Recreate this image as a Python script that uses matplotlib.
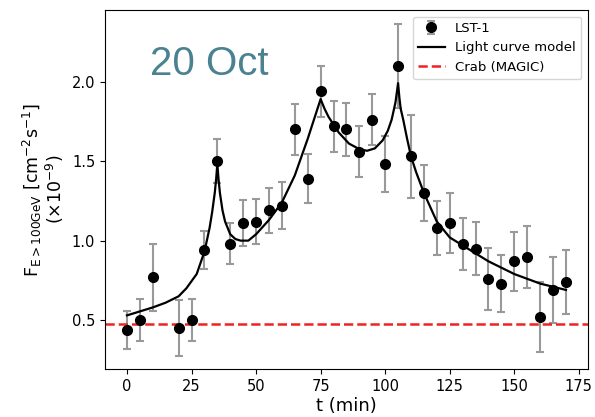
import numpy as np
import matplotlib.pyplot as plt

# LST-1 flux points, 20 Oct
t = [0, 5, 10, 20, 25, 30, 35, 40, 45, 50, 55, 60, 65, 70, 75, 80, 85, 90,
     95, 100, 105, 110, 115, 120, 125, 130, 135, 140, 145, 150, 155, 160, 165, 170]
flux = [0.44, 0.50, 0.77, 0.45, 0.50, 0.94, 1.50, 0.98, 1.11, 1.12, 1.19, 1.22,
        1.70, 1.39, 1.94, 1.72, 1.70, 1.56, 1.76, 1.48, 2.10, 1.53, 1.30, 1.08,
        1.11, 0.98, 0.95, 0.76, 0.73, 0.87, 0.90, 0.52, 0.69, 0.74]
err = [0.12, 0.13, 0.21, 0.175, 0.13, 0.12, 0.14, 0.13, 0.145, 0.14, 0.14, 0.15,
       0.16, 0.155, 0.16, 0.16, 0.165, 0.16, 0.16, 0.175, 0.265, 0.26, 0.175, 0.17,
       0.19, 0.165, 0.165, 0.195, 0.18, 0.185, 0.195, 0.22, 0.21, 0.20]

# light curve model
t_model = [0, 5, 10, 15, 20, 23, 27, 30, 32, 33, 34, 34.5, 35, 35.5, 36, 37, 38,
           40, 42, 44, 47, 50, 55, 60, 65, 70, 75, 76.5, 78, 82, 86, 90, 93, 96,
           99, 101, 102.5, 104, 105, 105.5, 106, 107, 108.5, 110, 112, 115, 120,
           125, 130, 135, 140, 145, 150, 155, 160, 165, 170]
f_model = [0.53, 0.555, 0.58, 0.61, 0.65, 0.70, 0.79, 0.93, 1.08, 1.18, 1.30,
           1.38, 1.48, 1.38, 1.30, 1.19, 1.12, 1.04, 1.01, 1.00, 1.00, 1.04, 1.13,
           1.24, 1.41, 1.64, 1.89, 1.83, 1.78, 1.68, 1.61, 1.575, 1.565, 1.58,
           1.63, 1.69, 1.76, 1.87, 1.99, 1.90, 1.83, 1.76, 1.64, 1.53, 1.43, 1.30,
           1.12, 1.02, 0.97, 0.92, 0.87, 0.83, 0.79, 0.76, 0.73, 0.71, 0.69]

crab = 0.475

fig, ax = plt.subplots(figsize=(5.95, 4.17), dpi=100)
fig.subplots_adjust(left=0.1765, right=0.988, top=0.976, bottom=0.114)

h1 = ax.errorbar(t, flux, yerr=err, fmt='o', color='black', ecolor='#999999',
                 elinewidth=1.5, capsize=3, capthick=1.5, markersize=7, label='LST-1')
h2, = ax.plot(t_model, f_model, color='black', lw=1.6, label='Light curve model')
h3 = ax.axhline(crab, color='#ee2222', ls='--', lw=1.8, label='Crab (MAGIC)')

ax.set_xlim(-8.5, 178.5)
ax.set_ylim(0.19, 2.45)
ax.set_xticks([0, 25, 50, 75, 100, 125, 150, 175])
ax.set_yticks([0.5, 1.0, 1.5, 2.0])
ax.tick_params(labelsize=10.5)

ax.set_xlabel('t (min)', fontsize=13, labelpad=2)
ax.set_ylabel('F$_{\\mathrm{E>100GeV}}$ [cm$^{-2}$s$^{-1}$]\n(×10$^{-9}$)',
              fontsize=12.5, linespacing=1.0)

ax.text(0.093, 0.819, '20 Oct', transform=ax.transAxes, fontsize=29,
        family='Liberation Sans', color='#4a8292', va='baseline')

ax.legend(handles=[h1, h2, h3], loc='upper right', fontsize=9.5)

plt.savefig('out.png')
